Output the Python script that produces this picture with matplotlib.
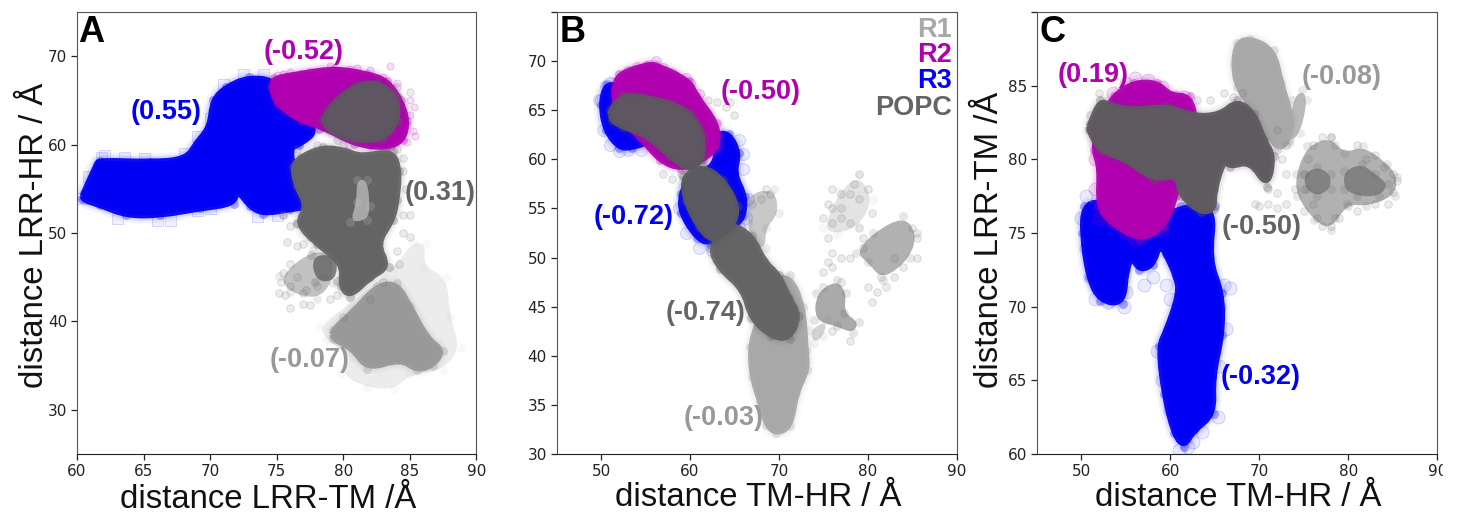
import numpy as np
import matplotlib
matplotlib.use('Agg')
import matplotlib.pyplot as plt
from matplotlib.colors import to_rgba
from matplotlib.patches import PathPatch, Rectangle
from matplotlib.path import Path

R1 = '#a8a8a8'
R2 = '#b000b0'
R3 = '#0000f5'
POPC = '#646464'

# panel A, (LRR-TM, LRR-HR), outlines of the clouds
a_r3 = [(60.5,54.5),(61.5,57.8),(61.7,58.2),(65.5,58),(68.2,58.3),(69,60.2),(70,62),(70.2,65),(71.2,66.5),(72.9,67.6),(75,67.2),
        (78.2,61.8),(76.7,60),(76,59.7),(76.2,57.5),(77,55.7),(77.5,53),(76,52.7),(74,52.2),(73,53),(72,55),(71.8,53.3),(69.2,52.8),
        (66.2,52),(63.7,52),(61.7,53.2),(60.4,53.8)]
a_r3_edge = [(60.3,54),(60.8,56.5),(61.8,58.6),(63.5,58.6),(62,58.8),(65,58.5),(66,51.5),(67,51.5),(63,51.7),(69,52.6),(70,52.8),
             (73.5,51.9),(75,52),(70,63),(71,66.8),(72.5,68),(74,68),(69,61),(68,59)]
a_r2 = [(74.8,67.5),(76.8,68),(79.3,68.6),(81.8,68),(83.3,67.2),(84.3,65),(84.8,62.7),(84.5,60.5),(83.2,59.6),(80.8,60.1),(78.5,62),
        (76.8,62.7),(75,64.6),(74.6,66.5)]
a_r2_edge = [(75,67.9),(76,68.2),(77.5,68.3),(79,68.9),(80.5,68.5),(82,68.4),(83,67.7),(83.5,68.9),(84,67),(85,65),(85.3,64.3),
             (85,63.3),(85.2,61.5),(85.4,61),(84.8,60.3),(83.5,59.7),(82,59.8),(75.5,68),(81,68.7),(84.8,62.2)]
a_popc_top = [(79.5,65),(81,66.7),(82.5,67),(84,65.5),(84.1,62.7),(83,60.6),(80.8,60.5),(79,61.6),(78.4,62.9)]
a_popc = [(76.8,58.6),(78.5,59.7),(80.2,59.3),(81.3,58.6),(83.7,59.3),(84.2,57),(84,53.7),(83.7,51.5),(82.5,48.8),(83.4,46.2),(82,45),
          (80.5,42.8),(79.8,44),(80,46.5),(78,48.8),(76.5,51.1),(77.3,53),(76.5,55.3),(76.2,57.5)]
a_popc_gap = [(81,56),(81.8,56),(82,53),(81.8,51.5),(80.5,51.2),(81,53.5)]
a_popc_mid = [(75.2,45.1),(77.7,48.1),(79.2,47.4),(79.2,44.4),(78,42.5),(76,43.3)]
a_popc_dark = [(77.6,47.5),(79.5,47.5),(79.5,44.6),(77.9,44.5)]
a_popc_sparse = [(75.5,45.5),(75.3,44.5),(75.6,43),(75.2,43.2),(76,41.5),(76,46.5),(76.5,45),(76,44),(77,42),(77.5,41.8),(78,44),
                 (78.5,45),(76.5,48.5),(75.8,49),(77,48.7),(76,50.8),(75.5,52),(76.5,51),(77.5,49.5),(79,42.5),(79.5,43),(80,40.5),
                 (84.5,50),(85,49.5),(84.5,52),(85,52),(84.7,55),(84.5,57),(84,59.5),(85,66),(84,66.5),(76.8,58.5),(76.5,59.5),
                 (78,60),(79.5,60.5),(80,60),(84.2,46.5),(82,42.5),(83,44.5),(77,43.2),(77.2,43.5),(84,48),(75.5,52),(84.5,58.5)]
a_r1 = [(79.2,39),(80.7,41),(82.5,44),(84,44.3),(85,41.7),(86.3,38),(87.5,36.7),(86.7,35),(85.5,34.5),(84.3,35.8),(81.8,34.6),(80.7,37),(79.2,38)]
a_r1_halo = [(78.2,39.5),(80.5,42),(83.8,46),(85.2,49),(86.2,48.7),(86,46.2),(87.8,45),(88,40.5),(88.8,37),(87.5,34.5),(85,34),(83.8,32.3),
             (81.8,32.5),(79.8,34),(80.7,36),(78.7,38)]

# panel B, (TM-HR, LRR-HR)
b_r3_top = [(50.5,67.6),(52,67.5),(56,64),(56,62),(53.5,61.2),(52,61.2),(50.5,63),(50,65.5)]
b_r3_low = [(63,62.6),(64.4,62.6),(65.5,60.6),(64.9,58.6),(66.2,56.2),(66,54.2),(65.2,53.4),(62.3,51.4),(60.8,52),(59,54.5),(59,56.5),(60,58.2),(63,59.3)]
b_r3_edge = [(50,66),(50.5,67.5),(51,67.8),(49.8,66),(50.2,63),(51,61.5),(52,60.8),(53,61),(65.5,62),(66,60.5),(66,59),(66.5,56),
             (66.3,54),(65.5,53),(58.8,55),(59.5,52.5),(61,51),(62.5,50.8),(54.5,61)]
b_r2 = [(52,68.7),(55.1,69.6),(56.2,69.6),(59.9,68),(60.7,66.4),(63,63.7),(63.2,61.3),(61.5,60),(59,59),(56.6,59.9),(54.4,62.3),(51.8,64.4),(51.4,67.1)]
b_r2_edge = [(53,69),(54,69.4),(55.5,69.6),(56.2,70),(57,69.3),(58,68.8),(59.5,68.3),(60,67.8),(61,66.7),(52.5,68.2)]
b_popc_top = [(51,65),(52.5,66.5),(54.7,66.3),(57.7,65.7),(60,64.7),(61.4,62.6),(61.4,60),(60,58.9),(57.8,60.3),(55,62.6),(52.5,63.3),(51.2,64)]
b_popc_oval = [(59.2,58.3),(61.5,59.3),(63.7,57.9),(65.4,55.2),(64.8,53.2),(62.6,51.6),(61,53.1),(59.5,55.8)]
b_popc_strip = [(62.2,51),(64.5,53.5),(67,52.2),(68.3,49.6),(70,48.2),(71.1,45.9),(72.3,44.1),(71.2,41.7),(69.1,42),(66.9,43.8),(66,46.8),(63.4,48.8)]
b_popc_mid1 = [(66.5,56.5),(69.5,57),(70,54.5),(68.5,53),(68.5,51),(67,51),(66.5,53.5)]
b_popc_mid2 = [(74.2,46.4),(76.5,47.7),(77.6,46.4),(77.3,44.4),(79,43.4),(78.3,42.3),(76.5,43),(74,43.6)]
b_popc_mid3 = [(78.7,50.5),(80.6,52.5),(84,54.2),(85.5,52.5),(84.8,50),(81.7,47.7),(80,49.5)]
b_popc_faint = [(75,53),(76.8,56.7),(79,58.4),(80.6,55.9),(79,53.2),(76.5,52.4)]
b_popc_sparse = [(62,66),(63,65.8),(64,65.3),(64.5,65.8),(65,64.5),(59,58.5),(58,58),(57,58.5),(67,55.5),(68,56),(69,56.5),(68.5,57),
                 (75,47),(75,48.5),(76,49),(77,47.5),(76,50.5),(75.5,49.5),(75.5,52),(75,54),(76,55),(75.5,55.5),(76,57),(77,56.5),(78,56.5),
                 (79,58.5),(78.5,57.5),(79,56),(80,57),(80.5,54.5),(77,54),(76,53.5),(78,53.5),(79,53),(79.5,52),(77,55),(85,53),(85.5,50),
                 (84,49),(83,48),(82,47),(80,47),(81,46.5),(79.5,51),(85.5,52),(83,50),(81.5,48),(78,50),(77,50),(80.5,45.5),(78,41.5),(76,42.5)]
b_r1 = [(69,47.4),(71.2,48.2),(72.7,45),(73,40.6),(73.2,38.6),(71.9,36.2),(71.3,32.8),(69.7,32.1),(68.6,33),(67.9,35.4),(67,37.8),(66.8,40.9),(67.5,43)]
b_r1_lobe = [(73.5,42.6),(75.4,43.6),(75,42),(73.9,41.3)]

# panel C, (TM-HR, LRR-TM)
c_r3 = [(50.3,76.8),(50.1,75),(50.8,72),(52.1,70.4),(54.7,70.2),(55,72.5),(55.7,73.4),(56.5,72.5),(58,72.8),(58.8,74.3),(59.5,73.6),(60.7,72),(61,70.9),
        (59.6,68.4),(58.7,67.3),(59.3,64.1),(60.4,61.4),(61.5,60.5),(62.6,61.6),(64.9,62.7),(64.7,65.2),(65.8,68.1),(65.8,70.9),(64.3,73.2),(65,76.8),
        (61.2,76.8),(55.7,75),(52,77.2)]
c_r3_edge = [(50,76),(50.5,77.5),(50.5,74),(51,72),(51.5,70.5),(53,70.3),(54.8,70),(55,71),(57,71.5),(58,72),(59.5,71.5),(60,70.5),(66,71.5),
             (66.7,71.3),(65.5,70),(66.3,68.5),(58.5,67),(59,65),(60,63),(65.3,62.5),(65.5,66),(61,60.3),(62,60.5),(62.5,60.8),(61.5,61),(63.5,61.5)]
c_r2 = [(53.6,84.3),(55.9,85.2),(58.5,85.2),(60,84.3),(62.2,84.3),(62.9,82.4),(61.5,80),(60.6,77.5),(59.3,75.4),(56.6,74.5),(53.3,75.7),(51.9,76.8),(52.1,79.5),(51.4,80.6),(51.8,82.4)]
c_r2_edge = [(53.5,84.5),(55,85.2),(56,85.5),(57.5,85.4),(59,84.9),(60.5,84.2),(61.5,84.2),(51.5,80),(51.5,78),(52,76),(55,75),(56,74.5),(59,75.2)]
c_popc = [(51,82.4),(52.1,84),(53.3,83.6),(55.9,83.3),(59.6,83.6),(62.6,82.9),(65.6,83),(67.5,84),(69.4,83.1),(70.5,81.3),(71.6,80.2),(70.9,78.1),(69,79.9),
          (66.7,79.5),(66,80),(64.9,77.9),(64.9,76.6),(63.4,76.4),(61.2,77.5),(60.8,79),(58.1,78.6),(55.1,80),(52.1,80.6),(50.8,82)]
c_popc_right = [(74.1,79),(75.4,80.9),(78,81.5),(79.5,80.4),(81.7,80.9),(84.4,79.7),(85.5,78.8),(85.2,77.5),(82,76.8),(79.9,77),(78,75.2),(76.1,75.9),(74.2,77.5)]
c_popc_dark1 = [(75,79),(76.5,79.5),(78,79),(78,78),(76.5,77.5),(75.2,78)]
c_popc_dark2 = [(79.5,79.2),(81.5,79.7),(83,79),(84.5,78.3),(83.5,77.5),(81,77.5),(79.5,78)]
c_popc_sparse = [(51,83),(51,82),(52,84.5),(63,84),(64.5,84),(66,84.5),(67,84.2),(68,84.5),(72,82),(73,81),(72.5,80),(71,78),(72,77.7),(73,77),
                 (74,78),(73,79),(72,76.7),(71,77),(75,79),(75,78),(75.5,80),(76,81),(77,81.5),(78,81.5),(78.5,81),(76,77),(76.5,76),(77,75.5),
                 (78,75.5),(78.5,76),(81,81),(82,80),(83,80.3),(84,79.5),(85,79),(85.5,78.5),(85,77.8),(84.5,77),(83,77),(81,76.5),(80,76.8),
                 (75,76.5),(79,76),(69.5,77),(70,76.8)]
c_r1 = [(67.5,87.9),(69,88.2),(71.6,87.4),(72.4,85.2),(73.7,82.7),(73.3,81.3),(72,80.6),(69.7,83.1),(67.5,84.9),(67.1,86.5)]
c_r1_lobe = [(73.7,84),(74.8,84.7),(75.4,84),(74.6,81.8),(73.3,81.1)]

# text labels, (text, x, y, colour)
a_labels = [('(-0.52)',77,70.5,R2),('(0.55)',66.7,63.7,R3),('(0.31)',87.3,54.5,POPC),('(-0.07)',77.5,35.6,'#999999')]
b_labels = [('(-0.50)',67.9,66.9,R2),('(-0.72)',53.7,54.1,R3),('(-0.74)',61.7,44.4,POPC),('(-0.03)',63.8,33.7,'#999999')]
c_labels = [('(0.19)',51.3,85.7,R2),('(-0.08)',79.3,85.6,'#999999'),('(-0.50)',70.3,75.4,POPC),('(-0.32)',70.1,65.2,R3)]
legend_names = ['R1','R2','R3','POPC']
legend_y = [73.2,70.6,68,65.2]

W, H = 1457, 514
bold = ['Liberation Sans', 'DejaVu Sans']


def px_axes(left, right, top, bottom):
    ax = fig.add_axes([left/W, 1-bottom/H, (right-left)/W, (bottom-top)/H])
    for s in ['left', 'top', 'right']:
        ax.spines[s].set_color('#555555')
    ax.spines['bottom'].set_color('#222222')
    ax.tick_params(labelsize=11, length=4, width=0.9, colors='#222222', pad=3)
    return ax


def rounded(pts):
    # closed outline with the read points as curve controls, so corners come out round
    p = np.array(pts)
    mids = (p + np.roll(p, -1, axis=0)) / 2
    verts = [mids[-1]]
    codes = [Path.MOVETO]
    for a, b in zip(p, mids):
        verts += [a, b]
        codes += [Path.CURVE3, Path.CURVE3]
    return Path(verts, codes)


def blob(ax, pts, color, alpha=1.0):
    path = rounded(pts)
    if alpha == 1.0:
        # soft edge made of wider and fainter outlines
        for lw, a in [(12, 0.05), (8, 0.10), (4.5, 0.95)]:
            ax.add_patch(PathPatch(path, facecolor='none', edgecolor=to_rgba(color, a), linewidth=lw, joinstyle='round'))
    ax.add_patch(PathPatch(path, facecolor=to_rgba(color, alpha), edgecolor='none'))
    x, y = np.array(pts).T
    ax.scatter(x, y, s=(9*0.72)**2, color=color, alpha=0.3*alpha, linewidths=0)


def dots(ax, pts, color, d=7.5, a=0.12, marker='o'):
    x, y = np.array(pts).T
    ax.scatter(x, y, s=(d*0.72)**2, facecolor=to_rgba(color, a), edgecolor=to_rgba(color, a+0.08),
               linewidths=0.7, marker=marker)


def labels(ax, rows, letter, lx, ly):
    for t, x, y, c in rows:
        ax.text(x, y, t, color=c, ha='center', va='center', fontsize=19.5, fontweight='bold', family=bold, zorder=10)
    ax.text(lx, ly, letter, color='black', ha='left', va='center', fontsize=26, fontweight='bold', family=bold, zorder=10)


def axis_text(x, y, s, rot=0):
    fig.text(x/W, 1-y/H, s, fontsize=23.7, rotation=rot, ha='center', va='center', color='#111111', family='Liberation Sans')


fig = plt.figure(figsize=(W/100, H/100), dpi=100)

# A
ax = px_axes(77, 476.5, 12, 454)
ax.set_xlim(60, 90)
ax.set_ylim(25, 75)
blob(ax, a_r1_halo, '#999999', 0.18)
blob(ax, a_r1, '#999999')
dots(ax, a_r3_edge, R3, 11, 0.06, 's')
blob(ax, a_r3, R3)
dots(ax, a_r2_edge, R2, 7, 0.12)
blob(ax, a_r2, R2)
blob(ax, a_popc_mid, POPC, 0.4)
blob(ax, a_popc_dark, POPC, 0.8)
dots(ax, a_popc_sparse, POPC)
blob(ax, a_popc, POPC)
blob(ax, a_popc_gap, '#c4c4c4', 0.7)
blob(ax, a_popc_top, '#5e5660')
ax.set_xticks(range(60, 91, 5))
ax.set_yticks(range(30, 71, 10))
labels(ax, a_labels, 'A', 60.1, 72.7)
axis_text(268, 499, 'distance LRR-TM /Å')
axis_text(35, 235, 'distance LRR-HR / Å', 90)

# B
ax = px_axes(556.7, 956.7, 12, 454)
ax.set_xlim(45, 90)
ax.set_ylim(30, 75)
blob(ax, b_r1_lobe, R1, 0.5)
blob(ax, b_r1, R1)
dots(ax, b_r3_edge, R3, 12, 0.08)
blob(ax, b_r3_top, R3)
blob(ax, b_r3_low, R3)
dots(ax, b_r2_edge, R2, 10, 0.12)
blob(ax, b_r2, R2)
blob(ax, b_popc_faint, POPC, 0.18)
blob(ax, b_popc_mid1, POPC, 0.35)
blob(ax, b_popc_mid2, POPC, 0.55)
blob(ax, b_popc_mid3, POPC, 0.5)
dots(ax, b_popc_sparse, POPC)
blob(ax, b_popc_strip, POPC)
blob(ax, b_popc_top, '#5e5660')
blob(ax, b_popc_oval, '#5a5a60')
ax.set_xticks(range(50, 91, 10))
ax.set_yticks(range(30, 76, 5))
ax.set_yticklabels([str(v) for v in range(30, 71, 5)] + [''])
labels(ax, b_labels, 'B', 45.3, 72.9)
for name, y, c in zip(legend_names, legend_y, [R1, R2, R3, POPC]):
    ax.text(89.5, y, name, color=c, ha='right', va='center', fontsize=19.5, fontweight='bold', family=bold)
axis_text(758, 498, 'distance TM-HR / Å')

# C
ax = px_axes(1037, 1437.3, 12, 454)
ax.set_xlim(45, 90)
ax.set_ylim(60, 90)
blob(ax, c_r1, R1)
blob(ax, c_r1_lobe, R1, 0.8)
dots(ax, c_r3_edge, R3, 13, 0.08)
blob(ax, c_r3, R3)
dots(ax, c_r2_edge, R2, 13, 0.12)
blob(ax, c_r2, R2)
blob(ax, c_popc_right, POPC, 0.5)
blob(ax, c_popc_dark1, POPC, 0.6)
blob(ax, c_popc_dark2, POPC, 0.6)
dots(ax, c_popc_sparse, POPC)
blob(ax, c_popc, '#5e5a60')
ax.set_xticks(range(50, 91, 10))
ax.set_yticks(range(60, 91, 5))
ax.set_yticklabels([str(v) for v in range(60, 86, 5)] + [''])
labels(ax, c_labels, 'C', 45.3, 88.6)
axis_text(1238, 498, 'distance TM-HR / Å')
axis_text(989, 240, 'distance LRR-TM /Å', 90)

# the right edge of the original is cropped through the last 90
fig.add_artist(Rectangle((1443/W, 0), 14/W, 1, transform=fig.transFigure, color='white', zorder=20))

fig.savefig('out.png', dpi=100)
